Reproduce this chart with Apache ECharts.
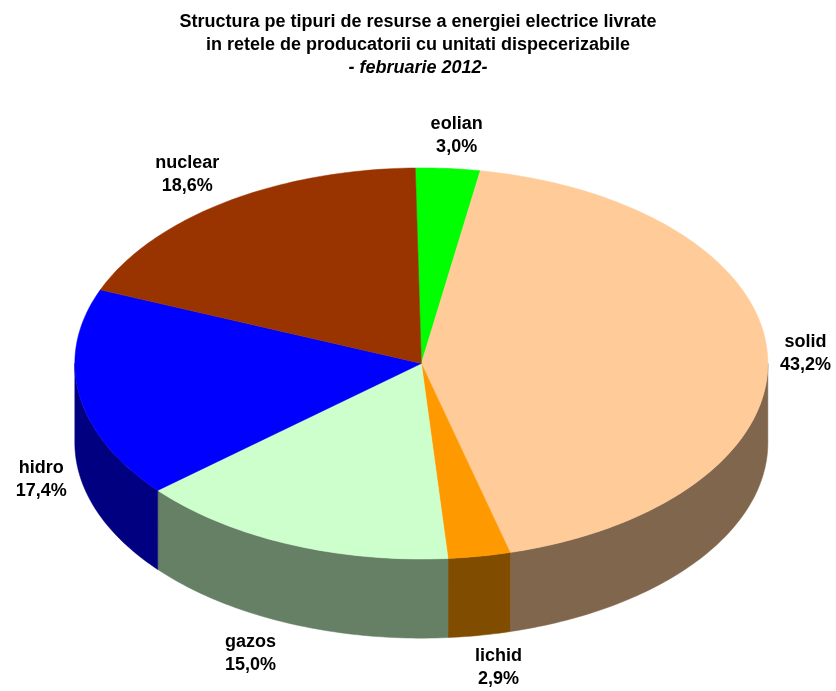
<!DOCTYPE html>
<html>
<head>
<meta charset="utf-8">
<script src="https://cdn.jsdelivr.net/npm/echarts@6/dist/echarts.min.js"></script>
<style>
  html, body { margin: 0; padding: 0; background: #fff; }
  #chart { width: 836px; height: 691px; }
</style>
</head>
<body>
<div id="chart"></div>
<script>
// data, clockwise from 12 o'clock
const categories = ["eolian", "solid", "lichid", "gazos", "hidro", "nuclear"];
const shares = [3.0, 43.2, 2.9, 15.0, 17.4, 18.6];
const topColors = ["#00FF00", "#FFCC99", "#FF9900", "#CCFFCC", "#0000FF", "#993300"];
const sideColors = ["#008000", "#80664D", "#804D00", "#668066", "#000080", "#4D1A00"];
const titleLines = [
  "Structura pe tipuri de resurse a energiei electrice livrate",
  "in retele de producatorii cu unitati dispecerizabile",
  "- februarie 2012-"
];

const FONT = '"Liberation Sans", Arial, sans-serif';
const START = -1; // degrees, first slice starts just left of 12 o'clock
const total = shares.reduce((a, b) => a + b, 0);
const deg = Math.PI / 180;

const renderSlice = (params, api) => {
  const W = api.getWidth(), H = api.getHeight();
  // flattened pie: ellipse top face + front wall
  const cx = W * 0.504, cy = H * 0.526;
  const rx = W * 0.4145, ry = H * 0.283, depth = H * 0.1145;
  const i = params.dataIndex;
  let before = 0;
  for (let k = 0; k < i; k++) before += shares[k];
  const a0 = START + (before / total) * 360;
  const a1 = a0 + (api.value(0) / total) * 360;

  const pt = (a, dy) => [cx + rx * Math.sin(a * deg), cy - ry * Math.cos(a * deg) + (dy || 0)];
  const arc = (from, to, dy) => {
    const n = Math.max(2, Math.ceil(Math.abs(to - from)));
    const pts = [];
    for (let j = 0; j <= n; j++) pts.push(pt(from + ((to - from) * j) / n, dy));
    return pts;
  };

  const children = [];
  // visible wall only on the front half (90..270 deg)
  const s = Math.max(a0, 90), e = Math.min(a1, 270);
  if (e > s) {
    children.push({
      type: "polygon",
      shape: { points: arc(s, e, 0).concat(arc(e, s, depth)) },
      style: { fill: sideColors[i], stroke: sideColors[i], lineWidth: 0.5 },
    });
  }
  children.push({
    type: "polygon",
    shape: { points: [[cx, cy]].concat(arc(a0, a1, 0)) },
    style: { fill: topColors[i], stroke: topColors[i], lineWidth: 0.5 },
  });

  // label outside the slice
  const m = (a0 + a1) / 2;
  const sn = Math.sin(m * deg), cs = Math.cos(m * deg);
  const p = pt(m, 0);
  const lx = p[0] + Math.sign(sn) * Math.min(Math.abs(sn) * 3, 1) * 38;
  const ly = p[1] - cs * 33 + (cs < 0 ? depth : 0);
  children.push({
    type: "text",
    style: {
      text: categories[i] + "\n" + shares[i].toFixed(1).replace(".", ",") + "%",
      x: lx,
      y: ly,
      align: "center",
      verticalAlign: "middle",
      font: "bold 18px " + FONT,
      lineHeight: 23,
      fill: "#000",
    },
  });
  return { type: "group", children };
};

const chart = echarts.init(document.getElementById("chart"));
const option = {
  animation: false,
  backgroundColor: "#fff",
  title: {
    left: "center",
    top: 6,
    text:
      "{a|" + titleLines[0] + "}\n{a|" + titleLines[1] + "}\n{b|" + titleLines[2] + "}",
    textStyle: {
      rich: {
        a: { fontFamily: FONT, fontWeight: "bold", fontSize: 18, lineHeight: 23, color: "#000" },
        b: { fontFamily: FONT, fontWeight: "bold", fontStyle: "italic", fontSize: 18, lineHeight: 23, color: "#000" },
      },
    },
  },
  series: [
    {
      type: "custom",
      coordinateSystem: "none",
      renderItem: renderSlice,
      data: shares.map((v) => [v]),
    },
  ],
};
chart.setOption(option);
window.onresize = function () {
  chart.resize();
};
</script>
</body>
</html>
